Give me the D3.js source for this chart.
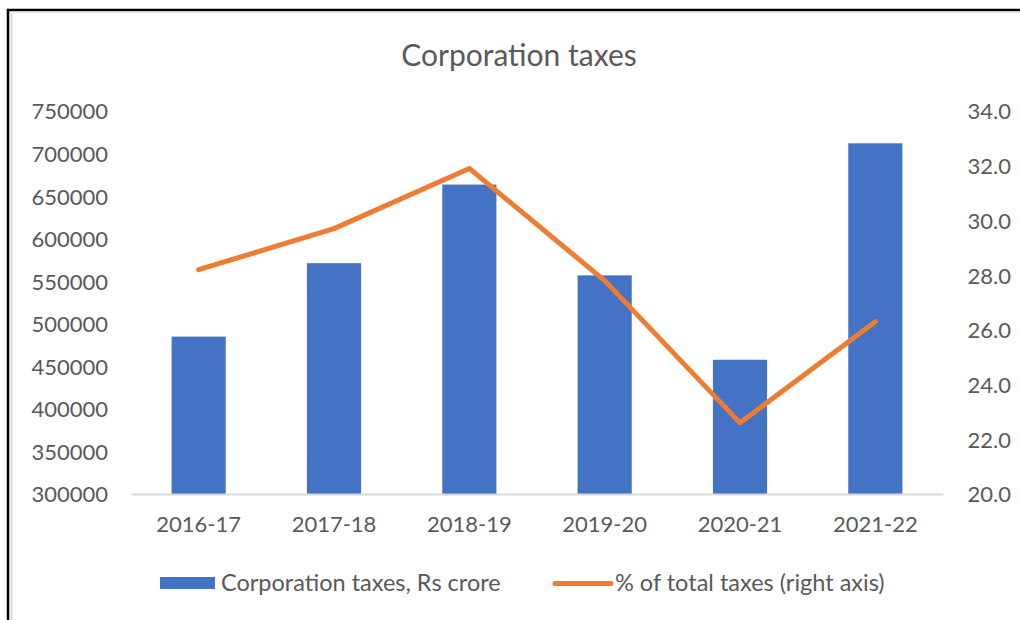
<!DOCTYPE html>
<html>
<head>
<meta charset="utf-8">
<script src="https://cdn.jsdelivr.net/npm/d3@7"></script>
<style>
  body { margin: 0; background: #fff; }
  svg { display: block; }
  svg text { font-family: Lato, "Open Sans", sans-serif; }
</style>
</head>
<body>
<svg id="chart" width="1020" height="620"></svg>
<script>
// Data
const years = ["2016-17", "2017-18", "2018-19", "2019-20", "2020-21", "2021-22"];
const corpTax = [484924, 571202, 663572, 556876, 457719, 712037];
const pctTotal = [28.2, 29.7, 31.9, 27.8, 22.6, 26.3];
const leftTicks = [300000, 350000, 400000, 450000, 500000, 550000, 600000, 650000, 700000, 750000];
const rightTicks = [20, 22, 24, 26, 28, 30, 32, 34];

const svg = d3.select("#chart");
const margin = { left: 131, right: 77, top: 111, bottom: 126 };
const W = 1020, H = 620;
const plotW = W - margin.left - margin.right;
const plotH = H - margin.top - margin.bottom;
const textColor = "#595959";

// outer frame
svg.append("rect").attr("x", 8).attr("y", 10).attr("width", 1030).attr("height", 640)
  .attr("fill", "none").attr("stroke", "#000").attr("stroke-width", 2.5);
svg.append("line").attr("x1", 11.5).attr("x2", 11.5).attr("y1", 12).attr("y2", 620)
  .attr("stroke", "#d9d9d9").attr("stroke-width", 2);
svg.append("line").attr("x1", 11).attr("x2", 1020).attr("y1", 12.5).attr("y2", 12.5)
  .attr("stroke", "#e6e6e6").attr("stroke-width", 1.5);

const g = svg.append("g").attr("transform", `translate(${margin.left},${margin.top})`);

const x = d3.scaleBand().domain(years).range([0, plotW]).padding(0);
const yL = d3.scaleLinear().domain([300000, 750000]).range([plotH, 0]);
const yR = d3.scaleLinear().domain([20, 34]).range([plotH, 0]);
const barW = x.bandwidth() * 0.4;

// title
svg.append("text").attr("x", 519).attr("y", 66).attr("text-anchor", "middle")
  .attr("fill", textColor).style("font-size", "30px").text("Corporation taxes");

// bars
g.selectAll(".bar").data(corpTax).join("rect")
  .attr("class", "bar")
  .attr("x", (d, i) => x(years[i]) + x.bandwidth() / 2 - barW / 2)
  .attr("width", barW)
  .attr("y", d => yL(d))
  .attr("height", d => plotH - yL(d))
  .attr("fill", "#4472C4");

// left axis
const leftAxis = g.append("g").call(d3.axisLeft(yL).tickValues(leftTicks).tickSize(0).tickPadding(23).tickFormat(d3.format("d")));
leftAxis.select(".domain").remove();
leftAxis.attr("font-family", null);
leftAxis.selectAll("text").attr("fill", textColor).style("font-size", "22px").attr("dy", "0.36em");

// right axis
const rightAxis = g.append("g").attr("transform", `translate(${plotW},0)`)
  .call(d3.axisRight(yR).tickValues(rightTicks).tickSize(0).tickPadding(0).tickFormat(d3.format(".1f")));
rightAxis.select(".domain").remove();
rightAxis.attr("font-family", null);
rightAxis.selectAll("text").attr("fill", textColor).style("font-size", "22px").attr("dy", "0.36em")
  .attr("text-anchor", "end").attr("x", 1011 - margin.left - plotW);

// bottom axis
const bottomAxis = g.append("g").attr("transform", `translate(0,${plotH})`)
  .call(d3.axisBottom(x).tickSize(0).tickPadding(22));
bottomAxis.attr("font-family", null);
bottomAxis.select(".domain").attr("stroke", "#d9d9d9").attr("stroke-width", 2);
bottomAxis.selectAll("text").attr("fill", textColor).style("font-size", "22px");

// line
const line = d3.line()
  .x((d, i) => x(years[i]) + x.bandwidth() / 2)
  .y(d => yR(d));
g.append("path").datum(pctTotal)
  .attr("d", line)
  .attr("fill", "none")
  .attr("stroke", "#ED7D31")
  .attr("stroke-width", 5)
  .attr("stroke-linecap", "round")
  .attr("stroke-linejoin", "round");

// legend
const leg = svg.append("g");
leg.append("rect").attr("x", 160).attr("y", 577).attr("width", 55).attr("height", 12).attr("fill", "#4472C4");
leg.append("text").attr("x", 221).attr("y", 591).attr("fill", textColor).style("font-size", "23.5px")
  .text("Corporation taxes, Rs crore");
leg.append("line").attr("x1", 555).attr("x2", 611).attr("y1", 583.5).attr("y2", 583.5)
  .attr("stroke", "#ED7D31").attr("stroke-width", 5).attr("stroke-linecap", "round");
leg.append("text").attr("x", 615).attr("y", 591).attr("fill", textColor).style("font-size", "23.5px")
  .text("% of total taxes (right axis)");
</script>
</body>
</html>
